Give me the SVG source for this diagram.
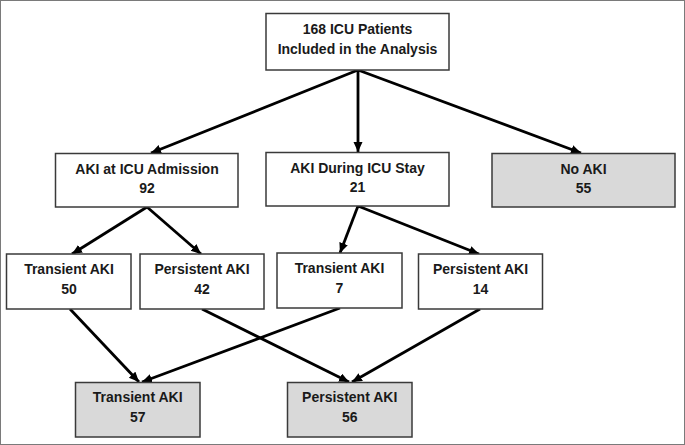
<svg xmlns="http://www.w3.org/2000/svg" width="685" height="445" viewBox="0 0 685 445">
<style>
.box{fill:#ffffff;stroke:#3a3a3a;stroke-width:1.5}
.gray{fill:#d9d9d9}
.t{font-family:"Liberation Sans",Arial,sans-serif;font-weight:bold;font-size:14px;fill:#1a1a1a;text-anchor:middle}
.c{stroke:#000;stroke-width:2.8;fill:none;marker-end:url(#ah)}
</style>
<defs>
<marker id="ah" markerUnits="userSpaceOnUse" markerWidth="11" markerHeight="10" refX="10" refY="4.5" orient="auto">
<path d="M0,0 L10,4.5 L0,9 z" fill="#000"/>
</marker>
</defs>
<rect x="0.5" y="0.5" width="684" height="444" fill="#ffffff" stroke="#7a7a7a" stroke-width="1"/>
<g id="connectors">
<line class="c" x1="358" y1="70" x2="151" y2="153"/>
<line class="c" x1="358" y1="70" x2="358" y2="152"/>
<line class="c" x1="358" y1="70" x2="581" y2="153"/>
<line class="c" x1="147" y1="207" x2="72" y2="254"/>
<line class="c" x1="147" y1="207" x2="201" y2="254"/>
<line class="c" x1="358" y1="206" x2="340" y2="253"/>
<line class="c" x1="358" y1="206" x2="479" y2="254"/>
<line class="c" x1="70" y1="309" x2="139" y2="382"/>
<line class="c" x1="202" y1="309" x2="349" y2="382"/>
<line class="c" x1="340" y1="308" x2="142" y2="382"/>
<line class="c" x1="480" y1="309" x2="352" y2="382"/>
</g>
<g id="n_total">
<rect class="box" x="266" y="13.5" width="183" height="56.5"/>
<text class="t" x="357.5" y="33.5">168 ICU Patients</text>
<text class="t" x="357.5" y="53.5">Included in the Analysis</text>
</g>
<g id="n_admission">
<rect class="box" x="55.5" y="153.5" width="182.5" height="53.5"/>
<text class="t" x="147" y="173.5">AKI at ICU Admission</text>
<text class="t" x="147" y="193">92</text>
</g>
<g id="n_during">
<rect class="box" x="266" y="152.5" width="183" height="53.5"/>
<text class="t" x="357.5" y="172.5">AKI During ICU Stay</text>
<text class="t" x="357.5" y="192">21</text>
</g>
<g id="n_noaki">
<rect class="box gray" x="492" y="153.5" width="183" height="53.5"/>
<text class="t" x="583.5" y="173.5">No AKI</text>
<text class="t" x="583.5" y="193">55</text>
</g>
<g id="n_trans50">
<rect class="box" x="6.5" y="254" width="124.5" height="55"/>
<text class="t" x="69" y="273.5">Transient AKI</text>
<text class="t" x="69" y="293.5">50</text>
</g>
<g id="n_pers42">
<rect class="box" x="140" y="254" width="124" height="55"/>
<text class="t" x="202" y="273.5">Persistent AKI</text>
<text class="t" x="202" y="293.5">42</text>
</g>
<g id="n_trans7">
<rect class="box" x="277" y="253" width="125" height="55"/>
<text class="t" x="339.5" y="272.5">Transient AKI</text>
<text class="t" x="339.5" y="292.5">7</text>
</g>
<g id="n_pers14">
<rect class="box" x="418.5" y="254" width="124" height="55"/>
<text class="t" x="480.5" y="273.5">Persistent AKI</text>
<text class="t" x="480.5" y="293.5">14</text>
</g>
<g id="n_trans57">
<rect class="box gray" x="75.5" y="382.5" width="124.5" height="54.5"/>
<text class="t" x="137.7" y="402">Transient AKI</text>
<text class="t" x="137.7" y="422">57</text>
</g>
<g id="n_pers56">
<rect class="box gray" x="287.5" y="382.5" width="124.5" height="54.5"/>
<text class="t" x="349.7" y="402">Persistent AKI</text>
<text class="t" x="349.7" y="422">56</text>
</g>
</svg>
